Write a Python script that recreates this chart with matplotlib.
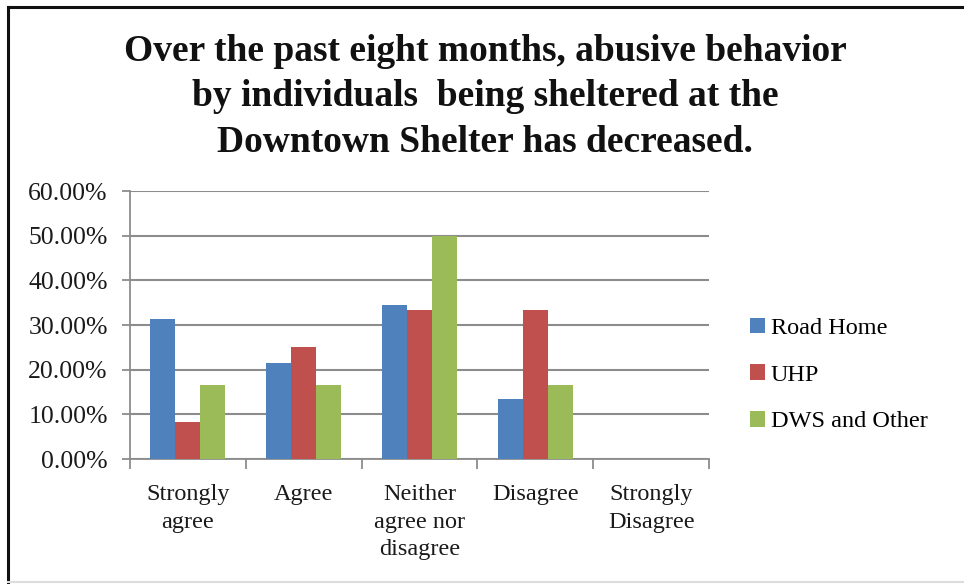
import matplotlib
matplotlib.use("Agg")
import matplotlib.pyplot as plt
import numpy as np
from matplotlib.patches import Patch
from matplotlib.lines import Line2D

categories = ["Strongly\nagree", "Agree", "Neither\nagree nor\ndisagree", "Disagree", "Strongly\nDisagree"]
series_names = ["Road Home", "UHP", "DWS and Other"]
road_home = [31.25, 21.43, 34.38, 13.33, 0.0]
uhp = [8.33, 25.0, 33.33, 33.33, 0.0]
dws_other = [16.67, 16.67, 50.0, 16.67, 0.0]
y_ticks = [0, 10, 20, 30, 40, 50, 60]
title = "Over the past eight months, abusive behavior\nby individuals  being sheltered at the\nDowntown Shelter has decreased."

colors = ["#4F81BD", "#C0504D", "#9BBB59"]
W, H = 964, 584
fig = plt.figure(figsize=(W / 100, H / 100), dpi=100)
serif = ["Liberation Serif", "DejaVu Serif"]

ax = fig.add_axes([130 / W, 1 - 459 / H, (709 - 130) / W, (459 - 191) / H])
x = np.arange(len(categories))
bw = 0.216
for i, (vals, c) in enumerate(zip([road_home, uhp, dws_other], colors)):
    ax.bar(x + (i - 1) * bw, vals, width=bw, color=c, zorder=3, linewidth=0)

ax.set_xlim(-0.5, len(categories) - 0.5)
ax.set_ylim(0, 60)
ax.set_yticks(y_ticks)
ax.set_yticklabels([f"{v:.2f}%" for v in y_ticks], fontfamily=serif, fontsize=18.5, color="#1a1a1a")
ax.yaxis.grid(True, color="#8c8c8c", linewidth=1.5, zorder=0)
ax.set_axisbelow(True)
ax.tick_params(axis="y", length=6, width=1.3, color="#8c8c8c", pad=10)
# category boundary ticks
ax.set_xticks(np.arange(-0.5, len(categories) + 0.5, 1.0))
ax.set_xticklabels([])
ax.tick_params(axis="x", length=7, width=1.3, color="#8c8c8c", direction="out")
ax.set_xticks(x, minor=True)
ax.set_xticklabels(categories, minor=True, fontfamily=serif, fontsize=17.5, color="#1a1a1a",
                   linespacing=1.42, va="top")
ax.tick_params(axis="x", which="minor", length=0, pad=18)
for s in ["top", "right"]:
    ax.spines[s].set_visible(False)
ax.spines["left"].set_color("#8c8c8c")
ax.spines["bottom"].set_color("#8c8c8c")
ax.spines["left"].set_linewidth(1.3)
ax.spines["bottom"].set_linewidth(1.3)

handles = [Patch(facecolor=c, edgecolor="none") for c in colors]
leg = fig.legend(handles, series_names, loc="center left", bbox_to_anchor=(743 / W, 1 - 375 / H),
                 frameon=False, prop={"family": serif, "size": 17.5},
                 handlelength=0.6, handleheight=0.6, handletextpad=0.25, labelspacing=1.05,
                 borderaxespad=0, borderpad=0.3)

fig.text(485 / W, 1 - 97 / H, title, ha="center", va="center", fontfamily=serif,
         fontweight="bold", fontsize=27, linespacing=1.4, color="#111111")

# outer frame
fig.add_artist(Line2D([8 / W, 8 / W], [0, 1 - 7 / H], transform=fig.transFigure, color="#111111", linewidth=2.2))
fig.add_artist(Line2D([8 / W, 1], [1 - 7 / H, 1 - 7 / H], transform=fig.transFigure, color="#111111", linewidth=2.2))
fig.add_artist(Line2D([8 / W, 1], [2 / H, 2 / H], transform=fig.transFigure, color="#dddddd", linewidth=1.5))

fig.savefig("out.png", dpi=100)
